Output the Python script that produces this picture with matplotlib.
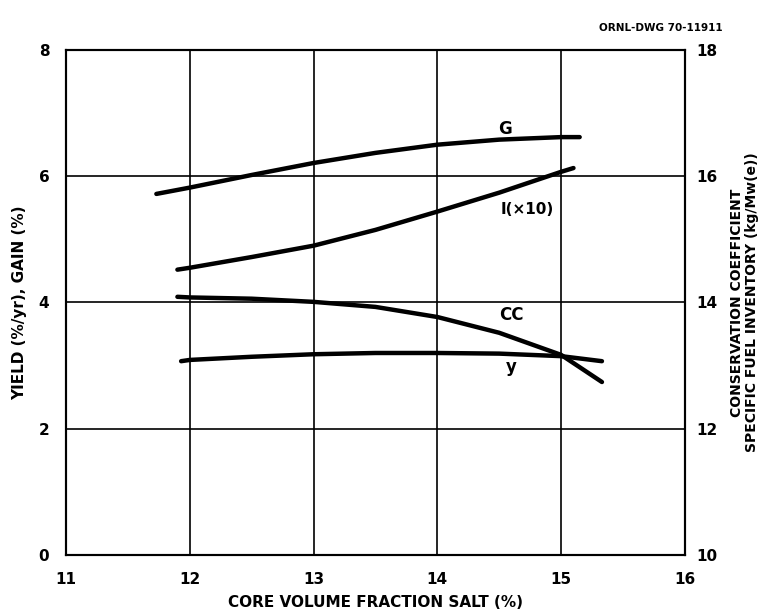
import numpy as np
from matplotlib import pyplot as plt

# curve data (x = core volume fraction salt, %)
g_x = [11.73, 12.0, 12.5, 13.0, 13.5, 14.0, 14.5, 15.0, 15.15]
g_val = [5.72, 5.82, 6.02, 6.21, 6.37, 6.50, 6.58, 6.62, 6.62]

i_x = [11.9, 12.0, 12.5, 13.0, 13.5, 14.0, 14.5, 15.0, 15.1]
i_val = [14.52, 14.55, 14.72, 14.90, 15.15, 15.44, 15.74, 16.07, 16.13]

cc_x = [11.9, 12.0, 12.5, 13.0, 13.5, 14.0, 14.5, 15.0, 15.33]
cc_val = [14.09, 14.08, 14.06, 14.01, 13.93, 13.77, 13.52, 13.17, 12.74]

y_x = [11.93, 12.0, 12.5, 13.0, 13.5, 14.0, 14.5, 15.0, 15.33]
y_val = [3.07, 3.09, 3.14, 3.18, 3.20, 3.20, 3.19, 3.15, 3.07]

x_ticks = [11, 12, 13, 14, 15, 16]
left_ticks = [0, 2, 4, 6, 8]
right_ticks = [10, 12, 14, 16, 18]

plt.rcParams['font.family'] = ['DejaVu Sans']
plt.rcParams['font.weight'] = 'bold'
plt.rcParams['axes.labelweight'] = 'bold'

fig = plt.figure(figsize=(7.73, 6.15), dpi=100)
ax = fig.add_axes([0.0854, 0.0976, 0.8006, 0.8211])
ax2 = ax.twinx()

ax.set_xlim(11, 16)
ax.set_ylim(0, 8)
ax2.set_ylim(10, 18)

ax.set_xticks(x_ticks)
ax.set_yticks(left_ticks)
ax2.set_yticks(right_ticks)
ax.tick_params(length=0, labelsize=11, pad=12)
ax2.tick_params(length=0, labelsize=11, pad=8)

ax.grid(True, color='black', lw=1.2)
for a in (ax, ax2):
    for s in a.spines.values():
        s.set_linewidth(1.5)

lw = 3.2
ax.plot(g_x, g_val, c='black', lw=lw, solid_capstyle='round')
ax.plot(y_x, y_val, c='black', lw=lw, solid_capstyle='round')
ax2.plot(i_x, i_val, c='black', lw=lw, solid_capstyle='round')
ax2.plot(cc_x, cc_val, c='black', lw=lw, solid_capstyle='round')

ax.text(14.55, 6.75, 'G', fontsize=12, ha='center', va='center')
ax2.text(14.73, 15.48, 'I(\u00d710)', fontsize=11, ha='center', va='center')
ax2.text(14.6, 13.8, 'CC', fontsize=12, ha='center', va='center')
ax.text(14.6, 2.98, 'y', fontsize=12, ha='center', va='center')

ax.set_xlabel('CORE VOLUME FRACTION SALT (%)', fontsize=11, labelpad=6)
ax.set_ylabel('YIELD (%/yr), GAIN (%)', fontsize=11, labelpad=8)
fig.text(0.963, 0.508,
         'CONSERVATION COEFFICIENT\nSPECIFIC FUEL INVENTORY (kg/Mw(e))',
         fontsize=10, rotation=90, ha='center', va='center', linespacing=1.15)

fig.text(0.855, 0.955, 'ORNL-DWG 70-11911', fontsize=7.5, ha='center', va='center')

plt.savefig('out.png', dpi=100)
